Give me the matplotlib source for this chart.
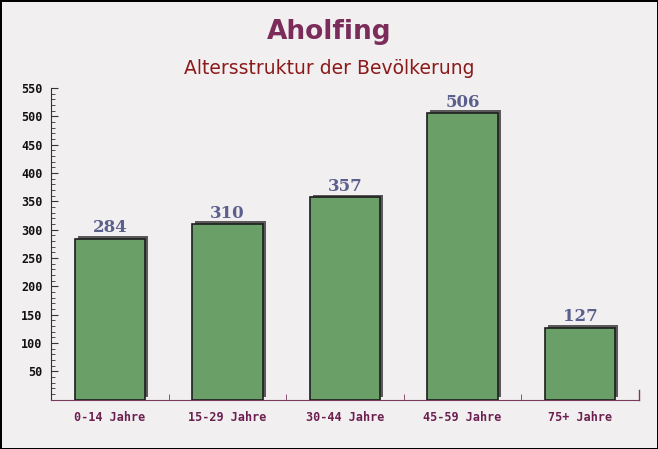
import numpy as np
import matplotlib
matplotlib.use("Agg")
import matplotlib.pyplot as plt
from matplotlib.transforms import ScaledTranslation
from matplotlib.ticker import MultipleLocator, FixedLocator

# data
categories = ['0-14 Jahre', '15-29 Jahre', '30-44 Jahre', '45-59 Jahre', '75+ Jahre']
values = [284, 310, 357, 506, 127]

fig = plt.figure(figsize=(6.58, 4.49), dpi=100)
fig.patch.set_facecolor('#f2eff0')
fig.patch.set_edgecolor('black')
fig.patch.set_linewidth(2)

ax = fig.add_axes([51 / 658, 1 - 399.5 / 449, 588 / 658, 311.5 / 449])
ax.set_facecolor('none')

x = np.arange(len(categories))
# grey shadow behind each bar, shifted a few pixels right and up
shadow = ax.bar(x, values, width=0.6, color='#5a5a5a', zorder=2)
offset = ax.transData + ScaledTranslation(3 / 100, 2.5 / 100, fig.dpi_scale_trans)
for p in shadow:
    p.set_transform(offset)
ax.bar(x, values, width=0.6, color='#6a9f68', edgecolor='#1e1e1e',
       linewidth=1.2, zorder=3)

for xi, v in zip(x, values):
    ax.text(xi, v + 4, str(v), ha='center', va='bottom', fontsize=12,
            fontweight='bold', color='#5a5f8c', family='DejaVu Serif')

ax.set_xlim(-0.5, len(categories) - 0.5)
ax.set_ylim(0, 550)
ax.yaxis.set_major_locator(FixedLocator(range(50, 551, 50)))
ax.yaxis.set_minor_locator(MultipleLocator(10))
ax.xaxis.set_major_locator(FixedLocator(x))
ax.set_xticklabels(categories)
ax.xaxis.set_minor_locator(FixedLocator(np.arange(0.5, len(categories), 1)))

for lab in ax.get_yticklabels():
    lab.set_family('DejaVu Sans Mono')
    lab.set_fontweight('bold')
    lab.set_fontsize(8.5)
    lab.set_color('#111111')
for lab in ax.get_xticklabels():
    lab.set_family('DejaVu Sans Mono')
    lab.set_fontweight('bold')
    lab.set_fontsize(8.5)
    lab.set_color('#6b2050')

ax.tick_params(axis='y', which='major', direction='in', length=5, color='#333333', pad=6)
ax.tick_params(axis='y', which='minor', direction='in', length=3, color='#333333')
ax.tick_params(axis='x', which='major', length=0, pad=8)
ax.tick_params(axis='x', which='minor', direction='in', length=4, color='#7a3a60')

ax.spines['top'].set_visible(False)
ax.spines['right'].set_visible(False)
ax.spines['left'].set_color('#333333')
ax.spines['bottom'].set_color('#7a3a60')
ax.plot([1, 1], [0, 0.03], transform=ax.transAxes, color='#7a3a60', lw=1, clip_on=False)

fig.text(0.5, 1 - 32 / 449, 'Aholfing', ha='center', va='center', fontsize=19,
         fontweight='bold', color='#7b2c5a')
fig.text(0.5, 1 - 69 / 449, 'Altersstruktur der Bevölkerung', ha='center', va='center',
         fontsize=13.5, color='#8b1a1a')

fig.savefig('out.png', dpi=100, facecolor=fig.get_facecolor(), edgecolor=fig.get_edgecolor())
